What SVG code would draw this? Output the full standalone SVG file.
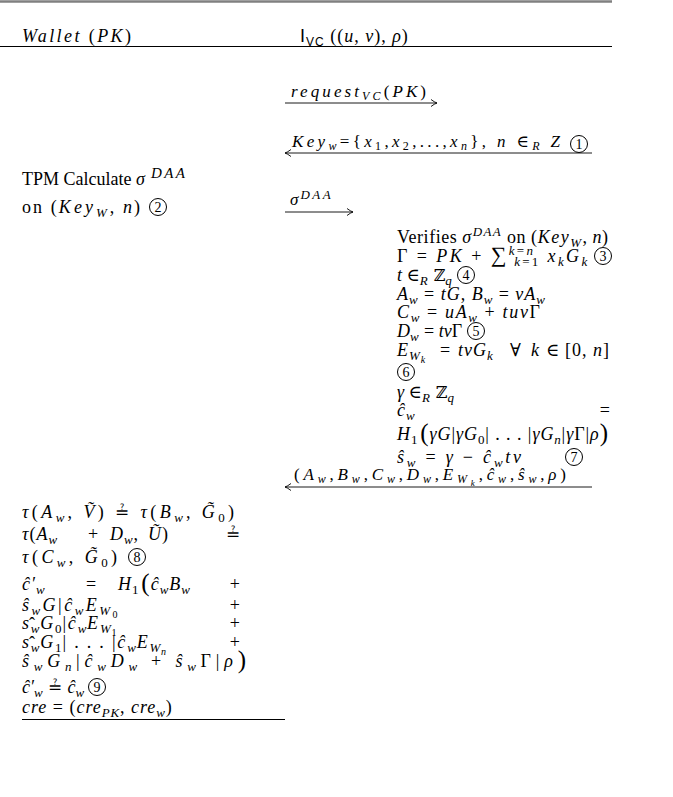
<svg xmlns="http://www.w3.org/2000/svg" width="673" height="797" viewBox="0 0 673 797">
<style>
text { font-family: "Liberation Serif", "DejaVu Serif", serif; font-size: 18px; fill: #000; }
.m { letter-spacing: 1px; }
.m2 { letter-spacing: 1.8px; }
.m0 { letter-spacing: 0px; }
.i { font-style: italic; }
.r { font-style: normal; }
.s { font-size: 13px; letter-spacing: 0.8px; }
.ss { font-size: 10px; letter-spacing: 0.5px; }
.sup { font-size: 15px; letter-spacing: 2.5px; }
.lbl { font-size: 17px; font-style: italic; }
.ls { font-size: 12px; }
.lss { font-size: 9px; }
.bb { font-family: "DejaVu Serif", serif; font-style: normal; font-size: 16px; }
.q { font-family: "DejaVu Serif", serif; font-style: normal; font-size: 17px; }
.cn { font-size: 14px; text-anchor: middle; }
.ring { fill: none; stroke: #000; stroke-width: 1; }
.sf { font-family: "Liberation Sans", sans-serif; font-style: normal; }
.rule { stroke: #000; stroke-width: 1.2; }
.top { stroke: #808080; stroke-width: 2.5; }
.arr { stroke: #000; stroke-width: 0.9; fill: none; }
</style>
<defs>
<marker id="ah" viewBox="-8 -5 10 10" refX="0" refY="0" markerWidth="10" markerHeight="10" orient="auto-start-reverse" markerUnits="userSpaceOnUse">
<path d="M-6,-3.5 Q-2.5,-0.8 0,0 Q-2.5,0.8 -6,3.5" fill="none" stroke="#000" stroke-width="0.9"/>
</marker>
</defs>

<g id="rules">
<line class="top" x1="0" y1="1.5" x2="612" y2="1.5"/>
<line class="rule" x1="0" y1="46.5" x2="612" y2="46.5"/>
<line class="rule" x1="22" y1="719.5" x2="285" y2="719.5"/>
</g>

<g id="header">
<text x="22" y="42" class="i m" textLength="110" lengthAdjust="spacing">Wallet <tspan class="r">(</tspan>PK<tspan class="r">)</tspan></text>
<text x="300" y="42" class="m"><tspan class="sf">I</tspan><tspan class="sf" font-size="12" dy="4">VC</tspan><tspan dy="-4"> ((</tspan><tspan class="i">u</tspan>, <tspan class="i">v</tspan>), <tspan class="i">ρ</tspan>)</text>
</g>

<g id="connectors">
<line class="arr" x1="285" y1="103" x2="437" y2="103" marker-end="url(#ah)"/>
<line class="arr" x1="285" y1="153" x2="592" y2="153" marker-start="url(#ah)"/>
<line class="arr" x1="285" y1="212" x2="353" y2="212" marker-end="url(#ah)"/>
<line class="arr" x1="285" y1="487" x2="592" y2="487" marker-start="url(#ah)"/>
</g>

<g id="connector-labels">
<text class="lbl" x="291" y="97" textLength="135" lengthAdjust="spacing">request<tspan class="ls" dy="3">VC</tspan><tspan class="r" dy="-3">(</tspan>PK<tspan class="r">)</tspan></text>
<text class="lbl" x="292" y="147" textLength="268" lengthAdjust="spacing">Key<tspan class="ls" dy="3">w</tspan><tspan class="r" dy="-3">={</tspan>x<tspan class="ls r" dy="3">1</tspan><tspan class="r" dy="-3">,</tspan>x<tspan class="ls r" dy="3">2</tspan><tspan class="r" dy="-3">,...,</tspan>x<tspan class="ls" dy="3">n</tspan><tspan class="r" dy="-3">}, </tspan>n <tspan class="r">∈</tspan><tspan class="ls" dy="3">R</tspan><tspan dy="-3"> Z</tspan></text>
<text class="lbl" x="290" y="205">σ<tspan font-size="13" letter-spacing="2.5" dx="2" dy="-6">DAA</tspan></text>
<text class="lbl" x="294" y="480" textLength="272" lengthAdjust="spacing"><tspan class="r">(</tspan>A<tspan class="ls" dy="3">w</tspan><tspan class="r" dy="-3">,</tspan>B<tspan class="ls" dy="3">w</tspan><tspan class="r" dy="-3">,</tspan>C<tspan class="ls" dy="3">w</tspan><tspan class="r" dy="-3">,</tspan>D<tspan class="ls" dy="3">w</tspan><tspan class="r" dy="-3">,</tspan>E<tspan class="ls" dy="3">W</tspan><tspan class="lss" dy="3">k</tspan><tspan class="r" dy="-6">,</tspan>ĉ<tspan class="ls" dy="3">w</tspan><tspan class="r" dy="-3">,</tspan>ŝ<tspan class="ls" dy="3">w</tspan><tspan class="r" dy="-3">,</tspan>ρ<tspan class="r">)</tspan></text>
<g id="mark-1"><circle class="ring" cx="579" cy="144" r="8.5"/><text class="cn" x="579" y="149">1</text></g>
</g>

<g id="wallet-tpm">
<text x="22" y="185">TPM Calculate <tspan class="i m">σ</tspan><tspan class="i sup" dx="5" dy="-7">DAA</tspan></text>
<text x="22" y="213" textLength="118" lengthAdjust="spacing">on (<tspan class="i m">Key</tspan><tspan class="i s" dy="4">W</tspan><tspan dy="-4">, </tspan><tspan class="i">n</tspan>)</text>
<g id="mark-2"><circle class="ring" cx="158" cy="207" r="8.5"/><text class="cn" x="158" y="212">2</text></g>
</g>

<g id="verifier">
<text x="397" y="243" textLength="211" lengthAdjust="spacing">Verifies <tspan class="i m">σ</tspan><tspan class="i s" dy="-7">DAA</tspan><tspan dy="7"> on (</tspan><tspan class="i m">Key</tspan><tspan class="i s" dy="4">W</tspan><tspan dy="-4">, </tspan><tspan class="i">n</tspan>)</text>
<text x="397" y="262" class="m" textLength="191" lengthAdjust="spacing">Γ = <tspan class="i">PK</tspan> + <tspan font-size="22">∑</tspan><tspan class="i s" font-size="12" dy="-7">k</tspan><tspan class="s" font-size="12">=</tspan><tspan class="i s" font-size="12">n</tspan><tspan class="i s" font-size="12" dx="-21" dy="11">k</tspan><tspan class="s" font-size="12">=1</tspan><tspan dy="-4"> </tspan><tspan class="i">x</tspan><tspan class="i s" dy="4">k</tspan><tspan class="i" dy="-4">G</tspan><tspan class="i s" dy="4">k</tspan></text>
<g id="mark-3"><circle class="ring" cx="603" cy="256" r="8.5"/><text class="cn" x="603" y="261">3</text></g>
<text x="397" y="281" class="m0"><tspan class="i">t</tspan> ∈<tspan class="i s" dy="4">R</tspan><tspan class="bb" dy="-4"> ℤ</tspan><tspan class="i s" dy="4">q</tspan></text>
<g id="mark-4"><circle class="ring" cx="466" cy="275" r="8.5"/><text class="cn" x="466" y="280">4</text></g>
<text x="397" y="300" class="m"><tspan class="i">A</tspan><tspan class="i s" dy="4">w</tspan><tspan dy="-4"> = </tspan><tspan class="i">tG</tspan>, <tspan class="i">B</tspan><tspan class="i s" dy="4">w</tspan><tspan dy="-4"> = </tspan><tspan class="i">vA</tspan><tspan class="i s" dy="4">w</tspan></text>
<text x="397" y="318" class="m" textLength="144" lengthAdjust="spacing"><tspan class="i">C</tspan><tspan class="i s" dy="4">w</tspan><tspan dy="-4"> = </tspan><tspan class="i">uA</tspan><tspan class="i s" dy="4">w</tspan><tspan dy="-4"> + </tspan><tspan class="i">tuv</tspan>Γ</text>
<text x="397" y="337" class="m0"><tspan class="i">D</tspan><tspan class="i s" dy="4">w</tspan><tspan dy="-4"> = </tspan><tspan class="i">tv</tspan>Γ</text>
<g id="mark-5"><circle class="ring" cx="476" cy="331" r="8.5"/><text class="cn" x="476" y="336">5</text></g>
<text x="397" y="356" class="m"><tspan class="i">E</tspan><tspan class="i s" dy="4">W</tspan><tspan class="i ss" dy="3">k</tspan></text>
<text x="440" y="356">=</text>
<text x="458" y="356" class="i m">tvG<tspan class="s" dy="4">k</tspan></text>
<text x="510" y="356">∀</text>
<text x="531" y="356" class="i">k</text>
<text x="546" y="356">∈</text>
<text x="610" y="356" text-anchor="end" class="m">[0, <tspan class="i">n</tspan>]</text>
<g id="mark-6"><circle class="ring" cx="406" cy="372" r="8.5"/><text class="cn" x="406" y="377">6</text></g>
<text x="397" y="398" class="m0"><tspan class="i">γ</tspan> ∈<tspan class="i s" dy="4">R</tspan><tspan class="bb" dy="-4"> ℤ</tspan><tspan class="i s" dy="4">q</tspan></text>
<text x="397" y="416" class="i m">ĉ<tspan class="s" dy="4">w</tspan></text>
<text x="610" y="416" text-anchor="end">=</text>
<text x="397" y="440" class="m" textLength="212" lengthAdjust="spacing"><tspan class="i">H</tspan><tspan class="s" dy="4">1</tspan><tspan font-size="25" dx="2" dy="-3">(</tspan><tspan class="i" dy="-1">γG</tspan>|<tspan class="i">γG</tspan><tspan class="s" dy="4">0</tspan><tspan dy="-4">| . . . |</tspan><tspan class="i">γG</tspan><tspan class="i s" dy="4">n</tspan><tspan dy="-4">|</tspan><tspan class="i">γ</tspan>Γ|<tspan class="i">ρ</tspan><tspan font-size="25" dy="1">)</tspan></text>
<text x="397" y="463" class="m" textLength="125" lengthAdjust="spacing"><tspan class="i">ŝ</tspan><tspan class="i s" dy="4">w</tspan><tspan dy="-4"> = </tspan><tspan class="i">γ</tspan> − <tspan class="i">ĉ</tspan><tspan class="i s" dy="4">w</tspan><tspan class="i" dy="-4">tv</tspan></text>
<g id="mark-7"><circle class="ring" cx="574" cy="457" r="8.5"/><text class="cn" x="574" y="462">7</text></g>
</g>

<g id="wallet-verify">
<text x="22" y="518" class="m" textLength="213" lengthAdjust="spacing"><tspan class="i">τ</tspan>(<tspan class="i">A</tspan><tspan class="i s" dy="4">w</tspan><tspan dy="-4">, </tspan><tspan class="i">V&#x303;</tspan>) <tspan class="q">≟</tspan> <tspan class="i">τ</tspan>(<tspan class="i">B</tspan><tspan class="i s" dy="4">w</tspan><tspan dy="-4">, </tspan><tspan class="i">G&#x303;</tspan><tspan class="s" dy="4">0</tspan><tspan dy="-4">)</tspan></text>
<text x="22" y="540" class="m"><tspan class="i">τ</tspan>(<tspan class="i">A</tspan><tspan class="i s" dy="4">w</tspan></text>
<text x="88" y="540">+</text>
<text x="110" y="540" class="m"><tspan class="i">D</tspan><tspan class="i s" dy="4">w</tspan><tspan dy="-4">,</tspan></text>
<text x="148" y="540" class="m"><tspan class="i">U&#x303;</tspan>)</text>
<text x="240" y="540" text-anchor="end" class="q">≟</text>
<text x="22" y="563" class="m" textLength="96" lengthAdjust="spacing"><tspan class="i">τ</tspan>(<tspan class="i">C</tspan><tspan class="i s" dy="4">w</tspan><tspan dy="-4">, </tspan><tspan class="i">G&#x303;</tspan><tspan class="s" dy="4">0</tspan><tspan dy="-4">)</tspan></text>
<g id="mark-8"><circle class="ring" cx="137" cy="557" r="8.5"/><text class="cn" x="137" y="562">8</text></g>
<text x="22" y="590" class="i m">ĉ′<tspan class="s" dy="4">w</tspan></text>
<text x="86" y="590">=</text>
<text x="118" y="590" class="m"><tspan class="i">H</tspan><tspan class="s" dy="4">1</tspan><tspan font-size="25" dx="2" dy="-3">(</tspan><tspan class="i" dy="-1">ĉ</tspan><tspan class="i s" dy="4">w</tspan><tspan class="i" dy="-4">B</tspan><tspan class="i s" dy="4">w</tspan></text>
<text x="240" y="590" text-anchor="end">+</text>
<text x="22" y="611" class="m" textLength="96" lengthAdjust="spacing"><tspan class="i">ŝ</tspan><tspan class="i s" dy="4">w</tspan><tspan class="i" dy="-4">G</tspan>|<tspan class="i">ĉ</tspan><tspan class="i s" dy="4">w</tspan><tspan class="i" dy="-4">E</tspan><tspan class="i s" dy="4">W</tspan><tspan class="ss" dy="3">0</tspan></text>
<text x="240" y="611" text-anchor="end">+</text>
<text x="22" y="629" class="m2"><tspan class="i">s</tspan><tspan class="i s" dy="4">w</tspan><tspan class="i" dy="-4">G</tspan><tspan class="s" dy="4">0</tspan><tspan dy="-4">|</tspan><tspan class="i">ĉ</tspan><tspan class="i s" dy="4">w</tspan><tspan class="i" dy="-4">E</tspan><tspan class="i s" dy="4">W</tspan><tspan class="ss" dy="3">1</tspan><tspan x="29" y="630">ˆ</tspan></text>
<text x="240" y="629" text-anchor="end">+</text>
<text x="22" y="648" class="m2"><tspan class="i">s</tspan><tspan class="i s" dy="4">w</tspan><tspan class="i" dy="-4">G</tspan><tspan class="s" dy="4">1</tspan><tspan dy="-4">| . . . |</tspan><tspan class="i">ĉ</tspan><tspan class="i s" dy="4">w</tspan><tspan class="i" dy="-4">E</tspan><tspan class="i s" dy="4">W</tspan><tspan class="i ss" dy="3">n</tspan><tspan x="29" y="649">ˆ</tspan></text>
<text x="240" y="648" text-anchor="end">+</text>
<text x="22" y="667" class="m" textLength="225" lengthAdjust="spacing"><tspan class="i">ŝ</tspan><tspan class="i s" dy="4">w</tspan><tspan class="i" dy="-4">G</tspan><tspan class="i s" dy="4">n</tspan><tspan dy="-4">|</tspan><tspan class="i">ĉ</tspan><tspan class="i s" dy="4">w</tspan><tspan class="i" dy="-4">D</tspan><tspan class="i s" dy="4">w</tspan><tspan dy="-4"> + </tspan><tspan class="i">ŝ</tspan><tspan class="i s" dy="4">w</tspan><tspan dy="-4">Γ|</tspan><tspan class="i">ρ</tspan><tspan font-size="25" dy="1">)</tspan></text>
<text x="22" y="693" class="m" textLength="63" lengthAdjust="spacing"><tspan class="i">ĉ′</tspan><tspan class="i s" dy="4">w</tspan><tspan class="q" dy="-4"> ≟ </tspan><tspan class="i">ĉ</tspan><tspan class="i s" dy="4">w</tspan></text>
<g id="mark-9"><circle class="ring" cx="97" cy="687" r="8.5"/><text class="cn" x="97" y="692">9</text></g>
<text x="22" y="713" class="m"><tspan class="i">cre</tspan> = (<tspan class="i">cre</tspan><tspan class="i s" dy="4">PK</tspan><tspan dy="-4">, </tspan><tspan class="i">cre</tspan><tspan class="i s" dy="4">w</tspan><tspan dy="-4">)</tspan></text>
</g>
</svg>
